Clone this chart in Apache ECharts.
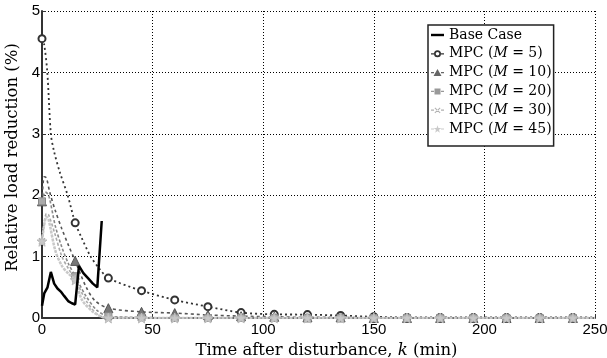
<!DOCTYPE html>
<html><head><meta charset="utf-8">
<script src="https://cdn.jsdelivr.net/npm/echarts@6/dist/echarts.min.js"></script>
<style>html,body{margin:0;padding:0;background:#fff}#c{width:607px;height:358px}</style>
</head><body><div id="c"></div>
<script>
// ---- data ----
const xTicks = [0, 50, 100, 150, 200, 250];
const yTicks = [0, 1, 2, 3, 4, 5];
const seriesNames = ['Base Case', 'MPC (M = 5)', 'MPC (M = 10)', 'MPC (M = 20)', 'MPC (M = 30)', 'MPC (M = 45)'];

const baseX = [0, 1, 2.5, 4, 5.5, 7, 8.5, 10, 12, 13.5, 15, 16.7, 18.7, 21, 23, 25, 27];
const baseY = [0.2, 0.4, 0.5, 0.75, 0.56, 0.48, 0.43, 0.36, 0.27, 0.24, 0.22, 0.85, 0.73, 0.64, 0.56, 0.5, 1.58];

const m5X = [0, 1, 2.4, 4, 5.4, 8, 11.6, 15, 18, 22, 26, 30, 45, 60, 75, 90, 105, 120, 135, 150, 165, 180, 195, 210, 225, 240, 250];
const m5Y = [4.55, 4.45, 4.0, 3.0, 2.72, 2.38, 2.0, 1.55, 1.3, 1.0, 0.8, 0.65, 0.445, 0.295, 0.185, 0.088, 0.06, 0.055, 0.04, 0.02, 0.01, 0.01, 0.01, 0.01, 0.01, 0.01, 0.01];

const m10X = [0, 1, 2, 3.5, 6, 9, 12, 15, 20, 24, 30, 45, 60, 75, 90, 105, 120, 135, 150, 165, 180, 195, 210, 225, 240, 250];
const m10Y = [1.9, 2.3, 2.28, 2.05, 1.75, 1.45, 1.18, 0.93, 0.5, 0.28, 0.16, 0.1, 0.08, 0.05, 0.03, 0.02, 0.01, 0.01, 0, 0, 0, 0, 0, 0, 0, 0];

const m20X = [0, 1.5, 3, 6, 9, 12, 15, 20, 25, 30, 45, 60, 75, 90, 105, 120, 135, 150, 165, 180, 195, 210, 225, 240, 250];
const m20Y = [1.9, 2.05, 2.0, 1.5, 1.15, 0.88, 0.68, 0.35, 0.12, 0.03, 0.01, 0, 0, 0, 0, 0, 0, 0, 0, 0, 0, 0, 0, 0, 0];

const m30X = [0, 2, 3, 6, 9, 12, 15, 20, 25, 30, 45, 60, 75, 90, 105, 120, 135, 150, 165, 180, 195, 210, 225, 240, 250];
const m30Y = [1.25, 1.7, 1.68, 1.35, 1.0, 0.8, 0.63, 0.28, 0.06, 0, 0, 0, 0, 0, 0, 0, 0, 0, 0, 0, 0, 0, 0, 0, 0];

const m45X = [0, 2, 3, 6, 9, 12, 15, 18, 23, 27, 30, 45, 60, 75, 90, 105, 120, 135, 150, 165, 180, 195, 210, 225, 240, 250];
const m45Y = [1.25, 1.65, 1.6, 1.1, 0.85, 0.72, 0.62, 0.3, 0.1, 0.02, 0, 0, 0, 0, 0, 0, 0, 0, 0, 0, 0, 0, 0, 0, 0, 0];

// ---- build ----
function pts(xs, ys, withMarkers) {
  return xs.map((x, i) => {
    const d = { value: [x, ys[i]] };
    if (!withMarkers || x % 15 !== 0) d.symbol = 'none';
    return d;
  });
}
const SERIF = 'DejaVu Serif';
const xPath = 'path://M0,0L10,10M10,0L0,10';
const starPath = 'path://M5,0L6.2,3.5L10,3.6L7,5.9L8.1,9.5L5,7.4L1.9,9.5L3,5.9L0,3.6L3.8,3.5Z';

// legend icons (13 x 8 box, line + marker)
const BOX = 'M0,0M13,8';
const sideLines = 'M0,3.4H3V4.6H0Z M10,3.4H13V4.6H10Z';
const iconBase = 'path://' + BOX + 'M0,2.8H13V5.2H0Z';
const iconM5 = 'path://' + BOX + sideLines + 'M3,4A3.5,3.5 0 1 0 10,4A3.5,3.5 0 1 0 3,4Z M4.7,4A1.8,1.8 0 1 1 8.3,4A1.8,1.8 0 1 1 4.7,4Z';
const iconM10 = 'path://' + BOX + sideLines + 'M2.5,7.5L6.5,0.5L10.5,7.5Z';
const iconM20 = 'path://' + BOX + sideLines + 'M3.5,1H9.5V7H3.5Z';
const iconM30 = 'path://' + BOX + sideLines + 'M3.5,2L4.2,1.3L9.5,6.3L8.8,7Z M9.5,2L8.8,1.3L3.5,6.3L4.2,7Z';
const iconM45 = 'path://' + BOX + sideLines + 'M6.5,0.2L7.4,2.9L10.3,3L8,4.8L8.8,7.7L6.5,6L4.2,7.7L5,4.8L2.7,3L5.6,2.9Z';
const legendIcons = [iconBase, iconM5, iconM10, iconM20, iconM30, iconM45];
const legendColors = ['#000', '#333', '#666', '#999', '#b0b0b0', '#cacaca'];

const chart = echarts.init(document.getElementById('c'), null, { renderer: 'canvas' });
chart.setOption({
  animation: false,
  backgroundColor: '#fff',
  grid: { left: 42, right: 12, top: 11, bottom: 40, containLabel: false, outerBoundsMode: 'none' },
  legend: {
    orient: 'vertical', left: 428, top: 25,
    padding: [3, 2, 10, 3], itemGap: 4.8, itemWidth: 13, itemHeight: 8,
    backgroundColor: '#fff', borderColor: '#222', borderWidth: 1.5, borderRadius: 0,
    data: seriesNames.map((n, i) => ({ name: n, icon: legendIcons[i],
      itemStyle: { color: legendColors[i], borderWidth: 0 } })),
    textStyle: { fontFamily: SERIF, fontSize: 14, color: '#000',
      rich: { i: { fontFamily: SERIF, fontStyle: 'italic', fontSize: 14, color: '#000' } } },
    formatter: n => n.replace('(M', '({i|M}')
  },
  xAxis: {
    type: 'value', min: 0, max: 250, interval: 50,
    axisLine: { show: true, onZero: false, lineStyle: { color: '#333', width: 2 } },
    axisTick: { show: true, inside: true, length: 4, lineStyle: { color: '#333' } },
    axisLabel: { fontFamily: 'Liberation Sans', fontSize: 15, color: '#000', margin: 4,
      formatter: v => xTicks.includes(v) ? String(v) : '' },
    splitLine: { show: true, lineStyle: { color: '#000', width: 1, type: [1, 2] } },
    name: 'Time after disturbance, {i|k} (min)', nameLocation: 'middle', nameGap: 18,
    nameTextStyle: { fontFamily: SERIF, fontSize: 16.5, color: '#000', padding: [0, 0, 0, 16],
      rich: { i: { fontFamily: SERIF, fontStyle: 'italic', fontSize: 16.5, color: '#000' } } }
  },
  yAxis: {
    type: 'value', min: 0, max: 5, interval: 1,
    axisLine: { show: true, onZero: false, lineStyle: { color: '#333', width: 2 } },
    axisTick: { show: true, inside: true, length: 4, lineStyle: { color: '#333' } },
    axisLabel: { fontFamily: 'Liberation Sans', fontSize: 15, color: '#000', margin: 2,
      formatter: v => yTicks.includes(v) ? String(v) : '' },
    splitLine: { show: true, lineStyle: { color: '#000', width: 1, type: [1, 2] } },
    name: 'Relative load reduction (%)', nameLocation: 'middle', nameGap: 11.5,
    nameTextStyle: { fontFamily: SERIF, fontSize: 16.5, color: '#000', padding: [0, 0, 0, 14] }
  },
  series: [
    { name: seriesNames[0], type: 'line', z: 10, data: pts(baseX, baseY, false), showSymbol: false, symbol: 'none',
      lineStyle: { color: '#000', width: 2.5 }, itemStyle: { color: '#000' } },
    { name: seriesNames[1], type: 'line', z: 3, smooth: 0.3, data: pts(m5X, m5Y, true), symbol: 'circle', symbolSize: 7,
      lineStyle: { color: '#333', width: 1.8, type: [2, 3] },
      itemStyle: { color: '#fff', borderColor: '#333', borderWidth: 2 } },
    { name: seriesNames[2], type: 'line', z: 4, smooth: 0.3, data: pts(m10X, m10Y, true), symbol: 'triangle', symbolSize: 9,
      lineStyle: { color: '#555', width: 1.6, type: [3, 3] },
      itemStyle: { color: '#777', borderColor: '#555', borderWidth: 1 } },
    { name: seriesNames[3], type: 'line', z: 5, smooth: 0.3, data: pts(m20X, m20Y, true), symbol: 'rect', symbolSize: 7,
      lineStyle: { color: '#888', width: 1.6, type: [3, 2] },
      itemStyle: { color: '#aaa', borderColor: '#888', borderWidth: 1 } },
    { name: seriesNames[4], type: 'line', z: 6, smooth: 0.3, data: pts(m30X, m30Y, true), symbol: xPath, symbolSize: 6,
      lineStyle: { color: '#aaa', width: 1.6, type: [3, 2] },
      itemStyle: { color: '#aaa', borderColor: '#aaa', borderWidth: 1.5 } },
    { name: seriesNames[5], type: 'line', z: 7, smooth: 0.3, data: pts(m45X, m45Y, true), symbol: starPath, symbolSize: 10,
      lineStyle: { color: '#c8c8c8', width: 2.5, type: [3, 1] },
      itemStyle: { color: '#c8c8c8', borderColor: '#bbb', borderWidth: 1 } }
  ]
});
</script></body></html>
